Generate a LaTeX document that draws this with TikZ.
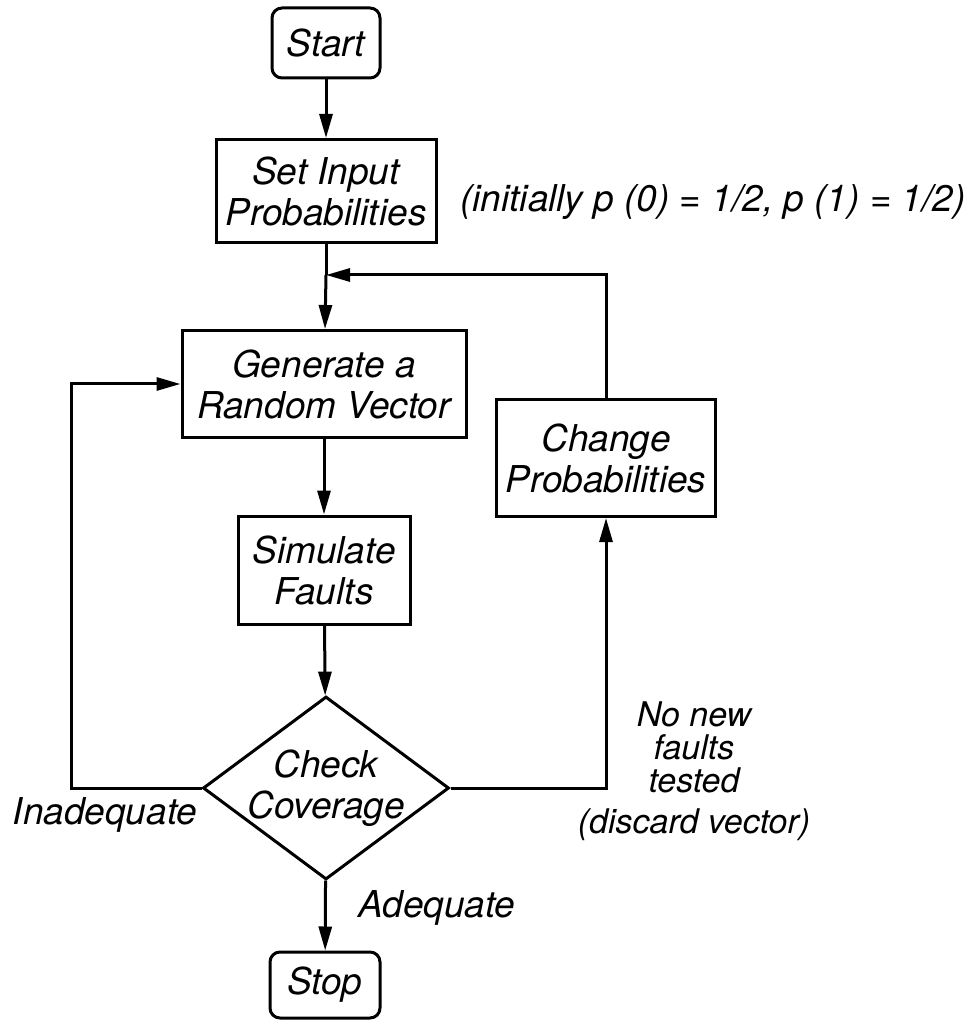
\documentclass[tikz,border=0pt]{standalone}
\usepackage{fontspec}
\setmainfont{TeX Gyre Heros}
\usetikzlibrary{shapes.geometric,arrows.meta}
\begin{document}
\begin{tikzpicture}[x=0.5pt,y=-0.5pt,
  every node/.style={font=\itshape\fontsize{18.5}{20.5}\selectfont, align=center},
  box/.style={draw, line width=1.5pt, inner sep=0pt},
  term/.style={box, rounded corners=5pt},
  flow/.style={line width=1.5pt, -{Triangle[length=12pt,width=6.5pt]}}]
\useasboundingbox (0,0) rectangle (975,1020);

\node[term, minimum width=54pt, minimum height=35pt] (start) at (326,43) {Start};
\node[box, minimum width=110pt, minimum height=51.5pt] (setin) at (326,191) {Set Input\\Probabilities};
\node (init) at (713,202) {(initially p (0) = 1/2, p (1) = 1/2)};
\node[box, minimum width=142pt, minimum height=53.5pt] (gen) at (324,384) {Generate a\\Random Vector};
\node[box, minimum width=109.5pt, minimum height=58.5pt] (change) at (606,458) {Change\\Probabilities};
\node[box, minimum width=86pt, minimum height=54pt] (sim) at (324,570) {Simulate\\Faults};
\node[box, diamond, aspect=1.34, inner sep=-6pt, minimum width=123pt, minimum height=91.5pt] (check) at (326,788) {Check\\Coverage};
\node[term, minimum width=55pt, minimum height=33pt] (stop) at (325,985) {Stop};
\coordinate (join) at (setin.south |- 0,275);

\draw[flow] (start) -- (setin);
\draw[line width=1.5pt] (setin.south) -- (join);
\draw[flow] (join) -- (gen);
\draw[flow] (change.north) |- (join);
\draw[flow] (gen) -- (sim);
\draw[flow] (sim) -- (check);
\draw[flow] (check) -- (stop);
\draw[flow] (check.west) -- ++(-130,0) |- (gen.west);
\draw[flow] (check.east) -| (change.south);

\node (inadeq) at (105,815) {Inadequate};
\node (adeq) at (437,908) {Adequate};
\node[font=\itshape\fontsize{17}{16.5}\selectfont] (nonew) at (694,771) {No new\\faults\\tested\\[4pt](discard vector)};
\end{tikzpicture}
\end{document}
